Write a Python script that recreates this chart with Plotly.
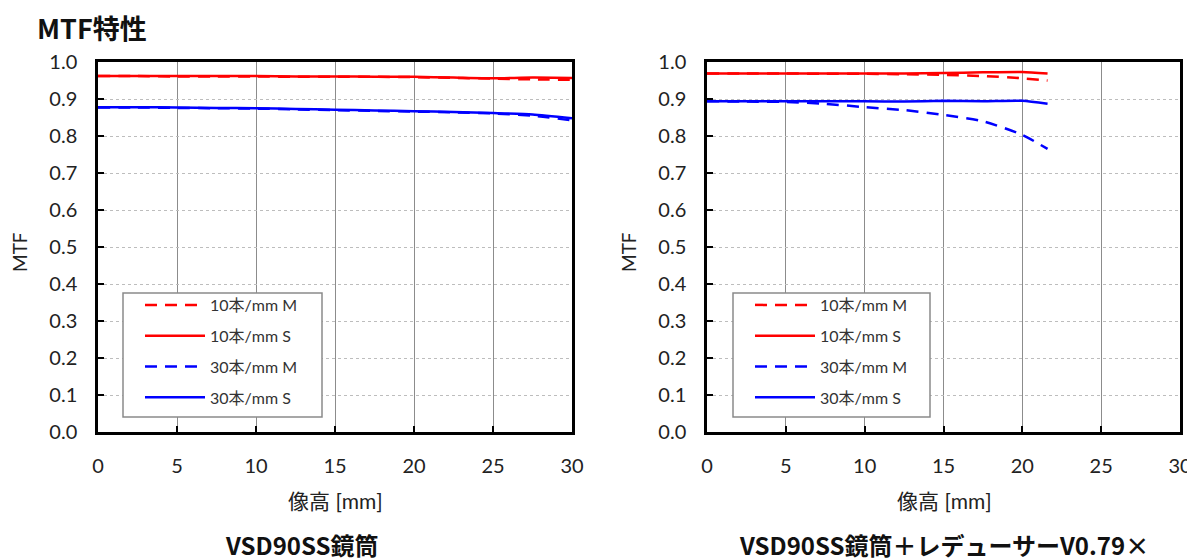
import plotly.graph_objects as go

# ---- data ----
x_left = [0, 2.5, 5, 7.5, 10, 12.5, 15, 17.5, 20, 22.5, 25, 27.5, 30]
left_10M = [0.962, 0.962, 0.961, 0.961, 0.961, 0.960, 0.960, 0.960, 0.959, 0.957, 0.955, 0.953, 0.952]
left_10S = [0.962, 0.962, 0.962, 0.962, 0.962, 0.961, 0.961, 0.960, 0.960, 0.958, 0.956, 0.958, 0.957]
left_30M = [0.877, 0.877, 0.876, 0.875, 0.874, 0.872, 0.870, 0.868, 0.866, 0.864, 0.861, 0.855, 0.842]
left_30S = [0.878, 0.878, 0.877, 0.876, 0.875, 0.873, 0.871, 0.869, 0.867, 0.865, 0.862, 0.858, 0.848]

x_right = [0, 2.5, 5, 7.5, 10, 12.5, 15, 17.5, 20, 21.6]
right_10M = [0.969, 0.969, 0.969, 0.968, 0.968, 0.967, 0.965, 0.962, 0.956, 0.950]
right_10S = [0.969, 0.969, 0.969, 0.969, 0.969, 0.969, 0.970, 0.972, 0.973, 0.969]
right_30M = [0.894, 0.893, 0.892, 0.887, 0.878, 0.870, 0.857, 0.840, 0.803, 0.765]
right_30S = [0.894, 0.894, 0.894, 0.894, 0.894, 0.893, 0.895, 0.894, 0.895, 0.887]

series_names = ["10本/mm M", "10本/mm S", "30本/mm M", "30本/mm S"]
x_ticks = [0, 5, 10, 15, 20, 25, 30]
y_ticks = [0.0, 0.1, 0.2, 0.3, 0.4, 0.5, 0.6, 0.7, 0.8, 0.9, 1.0]

FONT = "Lato, 'Noto Sans CJK JP', sans-serif"
JP = "'Noto Sans CJK JP', sans-serif"
RED = "#ff0000"
BLUE = "#0000ff"
DASH = "12px,8px"
W, H = 1195, 560
OFF = 8  # page body margin in the browser

def px(v):
    return (v - OFF) / W

def py(v):
    return 1 - (v - OFF) / H

styles = [(RED, DASH), (RED, "solid"), (BLUE, DASH), (BLUE, "solid")]

fig = go.Figure()

for (xs, ys_list, xa, ya, lg) in [
    (x_left, [left_10M, left_10S, left_30M, left_30S], "x", "y", "legend"),
    (x_right, [right_10M, right_10S, right_30M, right_30S], "x2", "y2", "legend2"),
]:
    for i, (name, ys) in enumerate(zip(series_names, ys_list)):
        color, dash = styles[i]
        fig.add_trace(go.Scatter(
            x=xs, y=ys, mode="lines", name=name,
            line=dict(color=color, width=2.5, dash=dash, shape="spline", smoothing=0.6),
            xaxis=xa, yaxis=ya, legend=lg, legendgroup=f"{lg}{i}",
        ))

y_dom = [py(432), py(62)]
x1_dom = [px(98), px(572)]
x2_dom = [px(707), px(1180)]

def xaxis(dom, anchor):
    return dict(
        domain=dom, anchor=anchor, range=[0, 30], tickvals=x_ticks,
        showgrid=True, gridcolor="#8c8c8c", gridwidth=1,
        showline=True, linecolor="black", linewidth=2.5, mirror=True,
        ticks="inside", ticklen=6, tickcolor="black", tickwidth=2,
        tickfont=dict(size=20, color="#222", family=FONT),
        ticklabelstandoff=14, zeroline=False, automargin=False,
    )

def yaxis(anchor):
    return dict(
        domain=y_dom, anchor=anchor, range=[0, 1.0], tickvals=y_ticks,
        tickformat=".1f",
        showgrid=True, gridcolor="#bdbdbd", gridwidth=1, griddash="dot",
        showline=True, linecolor="black", linewidth=2.5, mirror=True,
        ticks="inside", ticklen=6, tickcolor="black", tickwidth=2,
        tickfont=dict(size=20, color="#222", family=FONT),
        ticklabelstandoff=14, zeroline=False, automargin=False,
    )

legend_common = dict(
    bgcolor="rgba(0,0,0,0)", borderwidth=0,
    font=dict(size=16, color="#333", family=FONT),
    xanchor="left", yanchor="top", traceorder="grouped", tracegroupgap=7,
    itemwidth=60,
)

def legend_box(x0, x1, y0, y1):
    return dict(type="rect", xref="paper", yref="paper",
                x0=px(x0), x1=px(x1), y0=py(y1), y1=py(y0),
                line=dict(color="#8a8a8a", width=1.5), fillcolor="white", layer="above")

def ann(text, x, y, size, family=JP, bold=False, angle=0, color="#222", xanchor="center"):
    return dict(text=f"<b>{text}</b>" if bold else text, x=px(x), y=py(y),
                xref="paper", yref="paper", xanchor=xanchor, yanchor="middle",
                showarrow=False, textangle=angle,
                font=dict(size=size, color=color, family=family))

fig.update_layout(
    width=W, height=H,
    margin=dict(l=0, r=0, t=0, b=0, autoexpand=False),
    paper_bgcolor="white", plot_bgcolor="white",
    font=dict(family=FONT),
    xaxis=xaxis(x1_dom, "y"), yaxis=yaxis("x"),
    xaxis2=xaxis(x2_dom, "y2"), yaxis2=yaxis("x2"),
    legend=dict(x=px(140), y=py(288), **legend_common),
    legend2=dict(x=px(750), y=py(288), **legend_common),
    showlegend=True,
    shapes=[legend_box(123, 322, 293, 417), legend_box(733, 930, 293, 417)],
    annotations=[
        ann("MTF特性", 35, 28, 27, bold=True, color="#111", xanchor="left"),
        ann("MTF", 19, 252, 19, family=FONT, angle=-90),
        ann("MTF", 628, 252, 19, family=FONT, angle=-90),
        ann("像高 [mm]", 335, 500, 21, family=FONT),
        ann("像高 [mm]", 944, 500, 21, family=FONT),
        ann("VSD90SS鏡筒", 302, 544, 24, bold=True, color="#111"),
        ann("VSD90SS鏡筒＋レデューサーV0.79×", 944, 544, 24, bold=True, color="#111"),
    ],
)

fig.write_html("out.html")
